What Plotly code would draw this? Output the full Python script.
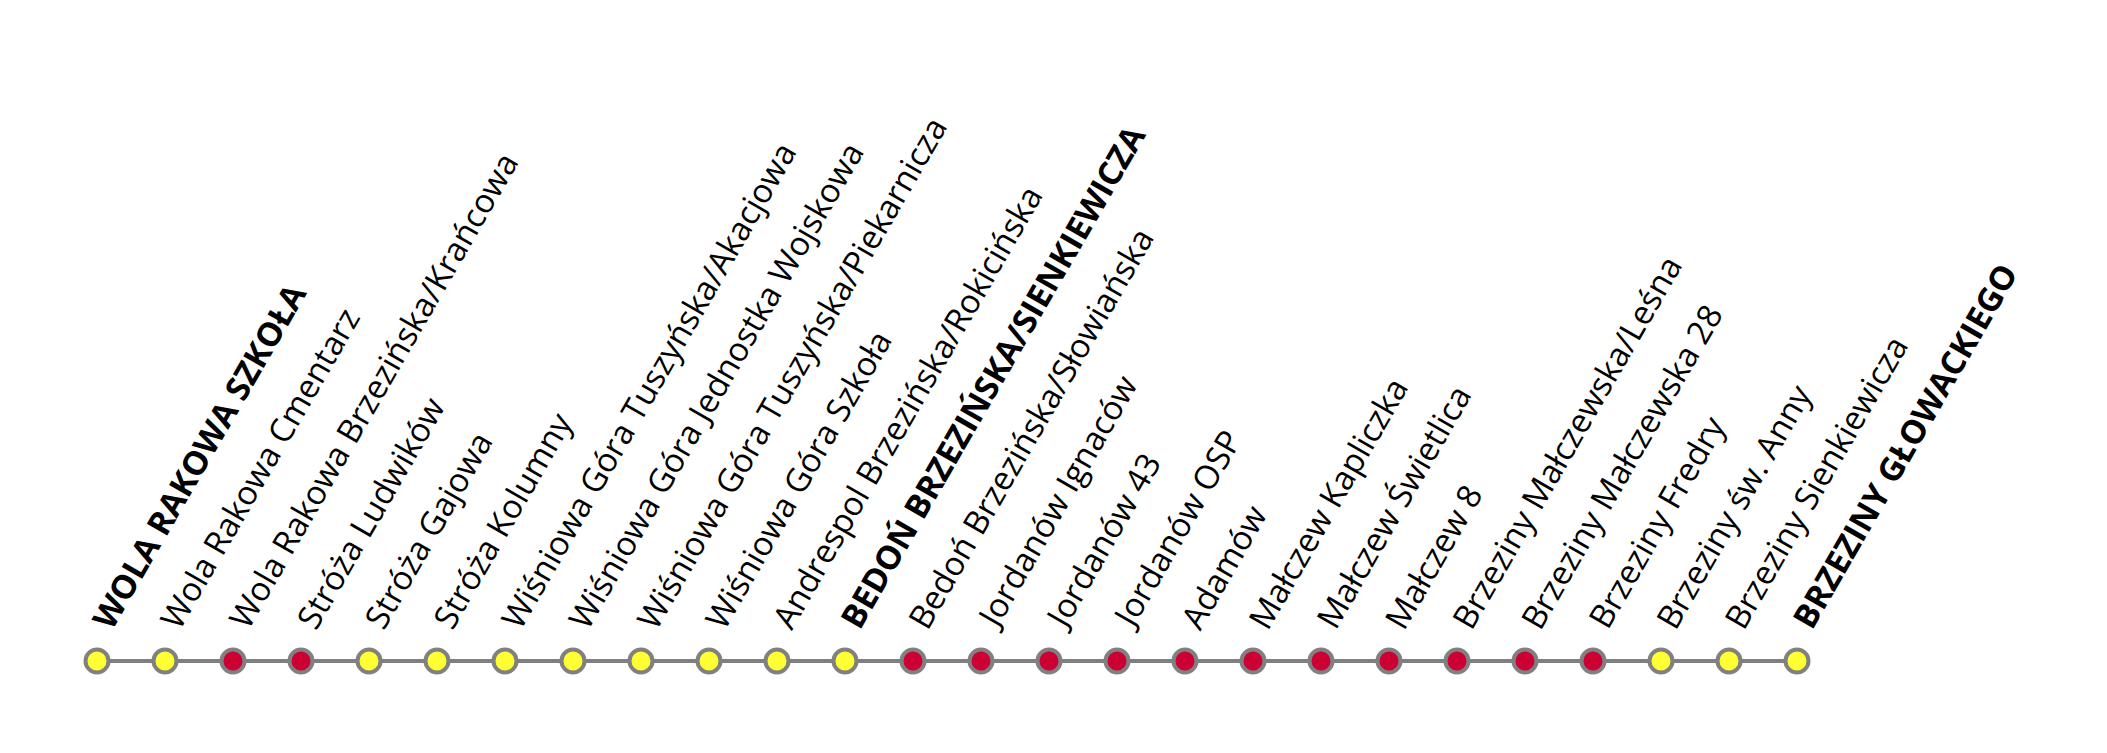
import plotly.graph_objects as go

stops = ["WOLA RAKOWA SZKOŁA", "Wola Rakowa Cmentarz", "Wola Rakowa Brzezińska/Krańcowa",
         "Stróża Ludwików", "Stróża Gajowa", "Stróża Kolumny",
         "Wiśniowa Góra Tuszyńska/Akacjowa", "Wiśniowa Góra Jednostka Wojskowa",
         "Wiśniowa Góra Tuszyńska/Piekarnicza", "Wiśniowa Góra Szkoła",
         "Andrespol Brzezińska/Rokicińska", "BEDOŃ BRZEZIŃSKA/SIENKIEWICZA",
         "Bedoń Brzezińska/Słowiańska", "Jordanów Ignaców", "Jordanów 43", "Jordanów OSP",
         "Adamów", "Małczew Kapliczka", "Małczew Świetlica", "Małczew 8",
         "Brzeziny Małczewska/Leśna", "Brzeziny Małczewska 28", "Brzeziny Fredry",
         "Brzeziny św. Anny", "Brzeziny Sienkiewicza", "BRZEZINY GŁOWACKIEGO"]
stop_type = ["y", "y", "r", "r", "y", "y", "y", "y", "y", "y", "y", "y", "r",
             "r", "r", "r", "r", "r", "r", "r", "r", "r", "r", "y", "y", "y"]
major = [0, 11, 25]

colors = {"y": "#ffff33", "r": "#cc0033"}
xs = list(range(len(stops)))
ys = [100] * len(stops)

fig = go.Figure()
fig.add_trace(go.Scatter(
    x=xs, y=ys, mode="lines+markers",
    line=dict(color="#808080", width=4),
    marker=dict(size=23, color=[colors[t] for t in stop_type],
                line=dict(color="#808080", width=4)),
    hoverinfo="text", text=stops,
))

for i, name in enumerate(stops):
    bold = i in major
    fig.add_annotation(
        x=xs[i], y=ys[i], text=f"<b>{name}</b>" if bold else name,
        textangle=-60, showarrow=False, xanchor="left", yanchor="bottom",
        xshift=-18, yshift=22,
        font=dict(family="Open Sans", size=33, color="black"),
    )

fig.update_layout(
    width=2107, height=753, margin=dict(l=0, r=0, t=0, b=0),
    plot_bgcolor="white", paper_bgcolor="white", showlegend=False,
    xaxis=dict(range=[-89 / 68, (2107 - 89) / 68], visible=False),
    yaxis=dict(range=[0, 753], visible=False),
)
fig.write_html("out.html")
